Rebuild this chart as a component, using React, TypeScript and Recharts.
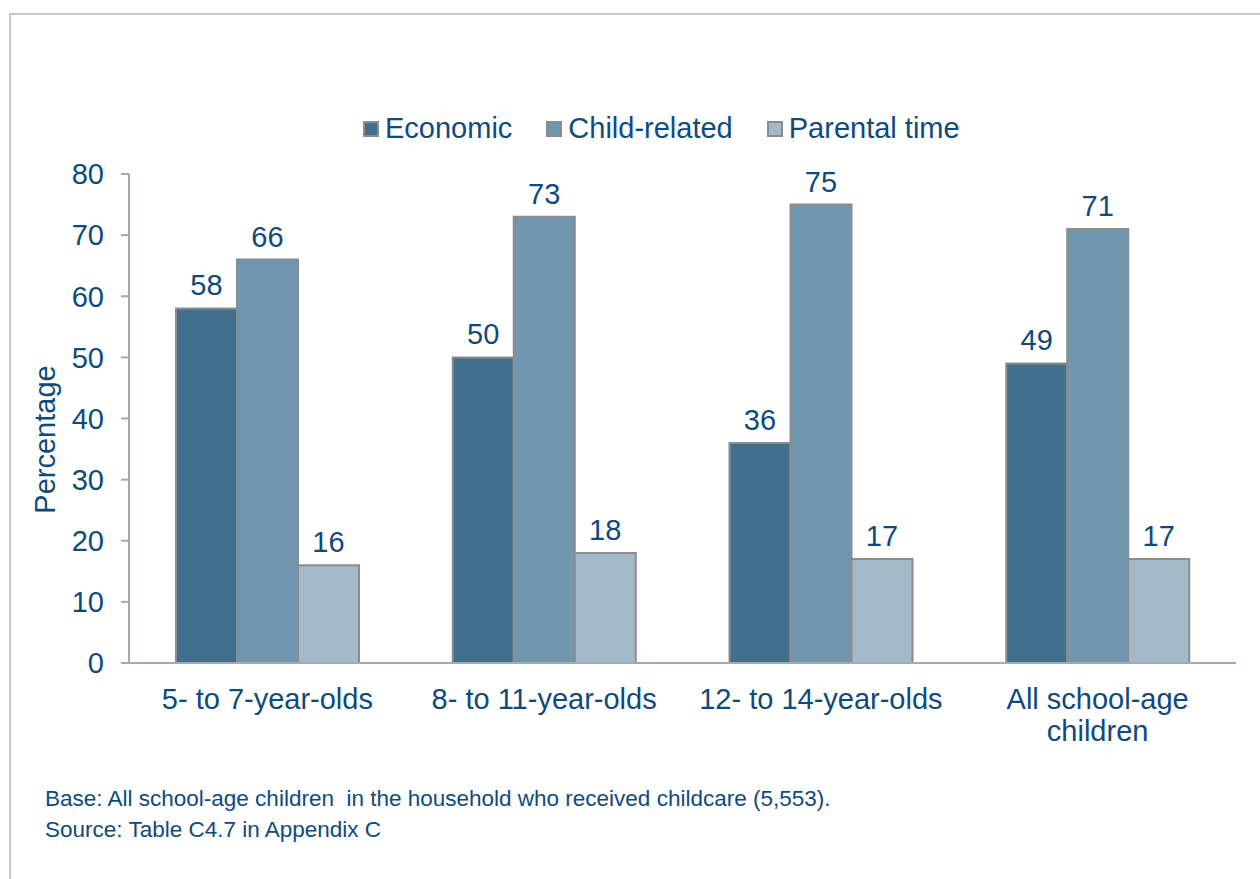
import React from 'react';
import { BarChart, Bar, XAxis, YAxis, Legend, LabelList } from 'recharts';

const categories = ['5- to 7-year-olds', '8- to 11-year-olds', '12- to 14-year-olds', 'All school-age children'];
const economic = [58, 50, 36, 49];
const childRelated = [66, 73, 75, 71];
const parentalTime = [16, 18, 17, 17];
const yTicks = [0, 10, 20, 30, 40, 50, 60, 70, 80];
const boundaryTicks = [0, 1, 2, 3, 4];

const seriesNames = ['Economic', 'Child-related', 'Parental time'];
const colors = ['#41708F', '#7197B0', '#A3B9C8'];

const data = categories.map((c, i) => ({
  name: c,
  economic: economic[i],
  child: childRelated[i],
  parental: parentalTime[i],
}));

const TEXT = '#0F4A7E';
const AXIS = '#A3A8BE';
const FONT = '"Liberation Sans", Arial, sans-serif';
const FS = 29;

const wrapLabel = (s: string, max: number) => {
  const words = s.split(' ');
  const lines: string[] = [];
  let cur = '';
  words.forEach((w) => {
    const next = cur ? cur + ' ' + w : w;
    if (next.length > max && cur) {
      lines.push(cur);
      cur = w;
    } else {
      cur = next;
    }
  });
  if (cur) lines.push(cur);
  return lines;
};

const XTick = (props: any) => {
  const { x, y, payload } = props;
  const lines = wrapLabel(String(payload.value), 20);
  return (
    <text x={x} y={y + 17} textAnchor="middle" fill={TEXT} fontSize={FS} fontFamily={FONT}>
      {lines.map((l, i) => (
        <tspan key={i} x={x} dy={i === 0 ? '0.71em' : 32}>
          {l}
        </tspan>
      ))}
    </text>
  );
};

const LegendContent = (props: any) => {
  const payload = [...(props.payload || [])].sort(
    (a: any, b: any) => seriesNames.indexOf(a.value) - seriesNames.indexOf(b.value)
  );
  return (
    <div style={{ display: 'flex', alignItems: 'center', fontFamily: FONT, fontSize: FS, color: TEXT, whiteSpace: 'nowrap' }}>
      {payload.map((p: any, i: number) => (
        <div key={i} style={{ display: 'flex', alignItems: 'center', marginRight: i < payload.length - 1 ? 34 : 0 }}>
          <span style={{ display: 'inline-block', width: 12, height: 12, background: p.color, border: '2px solid #8C8C8C', marginRight: 6 }} />
          <span>{p.value}</span>
        </div>
      ))}
    </div>
  );
};

const YLabel = (props: any) => {
  const { viewBox } = props;
  const cx = 45;
  const cy = viewBox.y + viewBox.height / 2 + 21;
  return (
    <text x={cx} y={cy} transform={`rotate(-90 ${cx} ${cy})`} textAnchor="middle" dominantBaseline="central" fill={TEXT} fontSize={FS} fontFamily={FONT}>
      Percentage
    </text>
  );
};

export default function App() {
  return (
    <div style={{ position: 'absolute', left: 0, top: 0, width: 1260, height: 879, background: '#fff', overflow: 'hidden' }}>
      <div style={{ position: 'absolute', left: 9, top: 13, width: 1260, height: 880, borderLeft: '2px solid #C8C8C8', borderTop: '2px solid #C8C8C8', boxSizing: 'border-box' }} />
      <div style={{ position: 'absolute', left: 0, top: 0 }}>
        <BarChart
          width={1260}
          height={879}
          data={data}
          margin={{ top: 174, right: 24, bottom: 116, left: 0 }}
          barCategoryGap={47}
          barGap={0}
        >
          <XAxis
            xAxisId="b"
            type="number"
            domain={[0, 4]}
            ticks={boundaryTicks}
            height={0}
            axisLine={false}
            tick={false}
            tickLine={{ stroke: AXIS, strokeWidth: 2 }}
            tickSize={9}
            allowDataOverflow
          />
          <XAxis
            dataKey="name"
            axisLine={{ stroke: AXIS, strokeWidth: 2 }}
            tickLine={false}
            tick={<XTick />}
            interval={0}
            height={100}
          />
          <YAxis
            domain={[0, 80]}
            ticks={yTicks}
            width={129}
            axisLine={{ stroke: AXIS, strokeWidth: 2 }}
            tickLine={{ stroke: AXIS, strokeWidth: 2 }}
            tickSize={8}
            tickMargin={17}
            tick={{ fill: TEXT, fontSize: FS, fontFamily: FONT }}
            label={<YLabel />}
          />
          <Legend
            layout="horizontal"
            verticalAlign="middle"
            align="center"
            content={<LegendContent />}
            wrapperStyle={{ top: 112, left: 363, width: 'auto', height: 'auto' }}
          />
          <Bar dataKey="economic" name={seriesNames[0]} fill={colors[0]} stroke="#8C8C8C" strokeWidth={2} isAnimationActive={false}>
            <LabelList dataKey="economic" position="top" offset={13} fill={TEXT} fontSize={FS} fontFamily={FONT} />
          </Bar>
          <Bar dataKey="child" name={seriesNames[1]} fill={colors[1]} stroke="#8C8C8C" strokeWidth={2} isAnimationActive={false}>
            <LabelList dataKey="child" position="top" offset={13} fill={TEXT} fontSize={FS} fontFamily={FONT} />
          </Bar>
          <Bar dataKey="parental" name={seriesNames[2]} fill={colors[2]} stroke="#8C8C8C" strokeWidth={2} isAnimationActive={false}>
            <LabelList dataKey="parental" position="top" offset={13} fill={TEXT} fontSize={FS} fontFamily={FONT} />
          </Bar>
        </BarChart>
      </div>
      <div style={{ position: 'absolute', left: 45, top: 786, fontFamily: FONT, fontSize: 22.5, color: TEXT, whiteSpace: 'pre' }}>
        Base: All school-age children  in the household who received childcare (5,553).
      </div>
      <div style={{ position: 'absolute', left: 45, top: 817, fontFamily: FONT, fontSize: 22.5, color: TEXT, whiteSpace: 'pre' }}>
        Source: Table C4.7 in Appendix C
      </div>
    </div>
  );
}
